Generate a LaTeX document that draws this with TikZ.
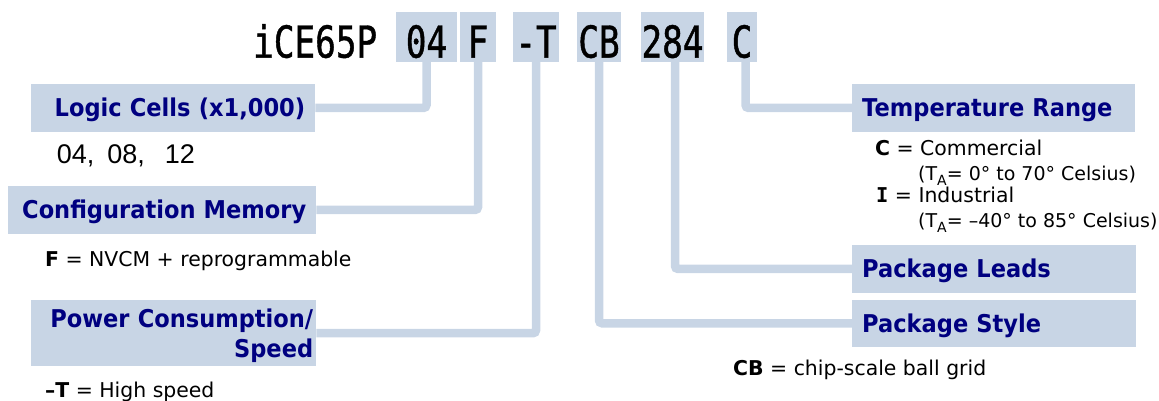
\documentclass[tikz,border=0pt]{standalone}
\usepackage{fontspec}
\setmainfont{DejaVu Sans}
\newfontfamily\headfont[FakeStretch=0.92]{DejaVu Sans}
\newfontfamily\codefont[FakeStretch=0.78,FakeBold=1]{DejaVu Sans Mono}
\newfontfamily\serifbold{DejaVu Sans Mono}
\newfontfamily\arialfont{Liberation Sans}
\usepackage{tikz}
\usetikzlibrary{positioning}
\definecolor{boxblue}{RGB}{200,213,229}
\definecolor{headblue}{RGB}{0,0,128}
\tikzstyle{codebox} = [fill=boxblue, font=\codefont\fontsize{44}{44}\selectfont, inner sep=0pt, text height=45.6pt, text depth=4.4pt, anchor=base]
\tikzstyle{head} = [fill=boxblue, text=headblue, font=\headfont\bfseries\fontsize{24.5}{30}\selectfont, inner xsep=10pt, inner ysep=0pt, text height=18pt, text depth=0pt, minimum height=47.5pt, anchor=north west]
\tikzstyle{note} = [inner sep=0pt, anchor=base west, font=\fontsize{20.4}{24}\selectfont]
\tikzset{
  link/.style ={draw=boxblue, line width=8.5pt, rounded corners=3pt}
}
\newcommand{\subA}{\raisebox{-5pt}{\fontsize{14}{14}\selectfont A}}

\begin{document}
\begin{tikzpicture}[x=1pt,y=-1pt]
  \useasboundingbox (0,0) rectangle (1159,401);

  % part number
  \node[codebox, fill=none, anchor=base west] (part) at (253,57.6) {iCE65P};
  \node[codebox, minimum width=61pt] (c04) at (426.5,57.6) {04};
  \node[codebox, minimum width=35.5pt] (cF) at (478,57.6) {F};
  \node[codebox, minimum width=45.5pt] (cT) at (536,57.6) {-T};
  \node[codebox, minimum width=43.5pt] (cCB) at (599,57.6) {CB};
  \node[codebox, minimum width=63.5pt] (c284) at (672.5,57.6) {284};
  \node[codebox, minimum width=29.5pt] (cC) at (742,57.6) {C};

  % left side
  \node[head, text width=264pt, align=right] (logic) at (31,84) {Logic Cells (x1,000)};
  \node[note, font=\arialfont\fontsize{27}{30}\selectfont] (cells) at (56.7,164) {04,\hspace{13pt}08,\hspace{20pt}12};
  \node[head, text width=288pt, align=right] (config) at (8,186) {Configuration Memory};
  \node[note] (nvcm) at (45,266) {\textbf{F} = NVCM + reprogrammable};
  \node[head, inner xsep=3pt, text width=279pt, align=right, text depth=30pt, minimum height=66pt] (power) at (31,300) {Power Consumption/\\Speed};
  \node[note] (speed) at (45,397) {\textbf{–T} = High speed};

  % right side
  \node[head, text width=263pt, align=left] (temp) at (852,84) {Temperature Range};
  \node[note] (comm) at (875,156) {\textbf{C} = Commercial};
  \node[note, font=\fontsize{19}{24}\selectfont] (commrange) at (918,180) {(T\subA= 0° to 70° Celsius)};
  \node[note] (ind) at (876,202.7) {{\serifbold\bfseries I} = Industrial};
  \node[note, font=\fontsize{19}{24}\selectfont] (indrange) at (918,227.7) {(T\subA= –40° to 85° Celsius)};
  \node[head, text width=264pt, align=left] (leads) at (852,245) {Package Leads};
  \node[head, text width=264pt, align=left] (style) at (852,299.3) {Package Style};
  \node[note] (cb) at (733,375.7) {\textbf{CB} = chip-scale ball grid};

  \begin{scope}[every path/.style=link]
    \path (c04.south) |- (logic.east);
    \path (cF.south) |- (config.east);
    \path (cT.south) |- (power.east);
    \path (cCB.south) |- (style.west);
    \path ([xshift=2.5pt]c284.south) |- (leads.west);
    \path ([xshift=3.5pt]cC.south) |- (temp.west);
  \end{scope}

\end{tikzpicture}
\end{document}
